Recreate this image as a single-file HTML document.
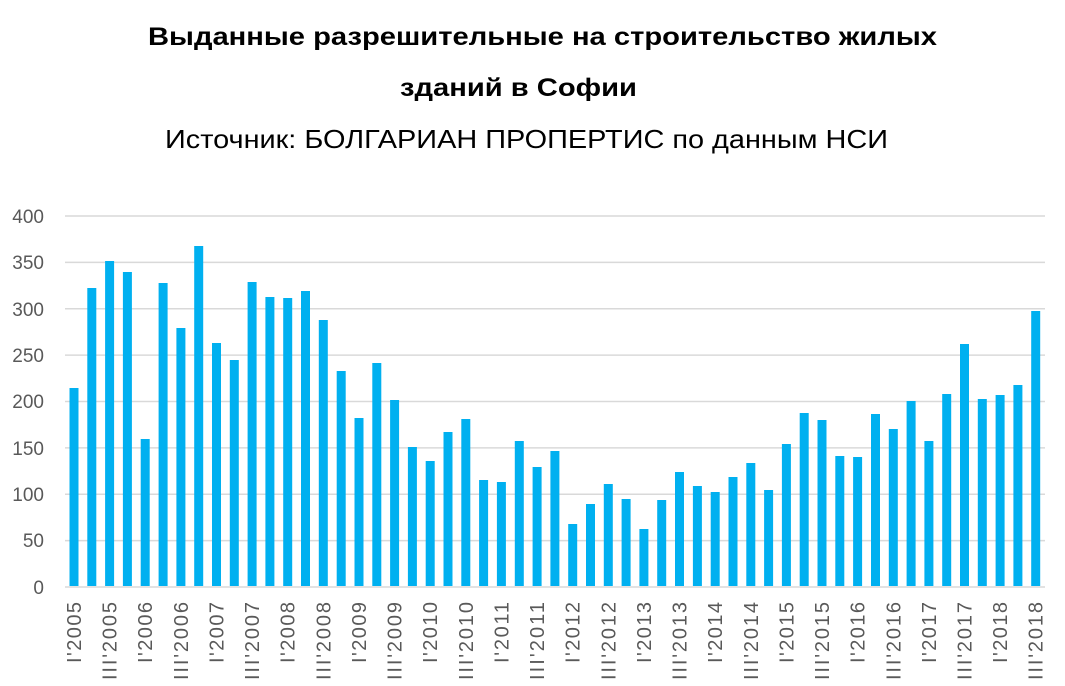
<!DOCTYPE html>
<html><head><meta charset="utf-8"><style>
body{margin:0;background:#fff;}
svg{display:block;}
text{font-family:"Liberation Sans",sans-serif;}
</style></head><body>
<svg width="1065" height="686" xmlns="http://www.w3.org/2000/svg">
<text x="148" y="45" font-size="25" font-weight="bold" fill="#000" textLength="789" lengthAdjust="spacingAndGlyphs">Выданные разрешительные на строительство жилых</text>
<text x="400" y="96" font-size="25" font-weight="bold" fill="#000" textLength="237" lengthAdjust="spacingAndGlyphs">зданий в Софии</text>
<text x="165" y="148" font-size="26" fill="#000" textLength="723" lengthAdjust="spacingAndGlyphs">Источник: БОЛГАРИАН ПРОПЕРТИС по данным НСИ</text>
<g stroke="#d9d9d9" stroke-width="1.5">
<line x1="65" x2="1045" y1="216" y2="216"/><line x1="65" x2="1045" y1="262.4" y2="262.4"/>
<line x1="65" x2="1045" y1="308.8" y2="308.8"/><line x1="65" x2="1045" y1="355.1" y2="355.1"/>
<line x1="65" x2="1045" y1="401.5" y2="401.5"/><line x1="65" x2="1045" y1="447.9" y2="447.9"/>
<line x1="65" x2="1045" y1="494.3" y2="494.3"/><line x1="65" x2="1045" y1="540.6" y2="540.6"/>
<line x1="65" x2="1045" y1="587" y2="587"/>
</g>
<g font-size="19" fill="#595959" text-anchor="end">
<text x="44" y="223">400</text><text x="44" y="269">350</text><text x="44" y="316">300</text>
<text x="44" y="362">250</text><text x="44" y="408">200</text><text x="44" y="455">150</text>
<text x="44" y="501">100</text><text x="44" y="547">50</text><text x="44" y="594">0</text>
</g>
<g fill="#00b0f0">
<rect x="69.5" y="388" width="9" height="198"/>
<rect x="87.3" y="288" width="9" height="298"/>
<rect x="105.1" y="261" width="9" height="325"/>
<rect x="122.9" y="272" width="9" height="314"/>
<rect x="140.7" y="439" width="9" height="147"/>
<rect x="158.6" y="283" width="9" height="303"/>
<rect x="176.4" y="328" width="9" height="258"/>
<rect x="194.2" y="246" width="9" height="340"/>
<rect x="212.0" y="343" width="9" height="243"/>
<rect x="229.8" y="360" width="9" height="226"/>
<rect x="247.6" y="282" width="9" height="304"/>
<rect x="265.4" y="297" width="9" height="289"/>
<rect x="283.2" y="298" width="9" height="288"/>
<rect x="301.0" y="291" width="9" height="295"/>
<rect x="318.8" y="320" width="9" height="266"/>
<rect x="336.7" y="371" width="9" height="215"/>
<rect x="354.5" y="418" width="9" height="168"/>
<rect x="372.3" y="363" width="9" height="223"/>
<rect x="390.1" y="400" width="9" height="186"/>
<rect x="407.9" y="447" width="9" height="139"/>
<rect x="425.7" y="461" width="9" height="125"/>
<rect x="443.5" y="432" width="9" height="154"/>
<rect x="461.3" y="419" width="9" height="167"/>
<rect x="479.1" y="480" width="9" height="106"/>
<rect x="496.9" y="482" width="9" height="104"/>
<rect x="514.8" y="441" width="9" height="145"/>
<rect x="532.6" y="467" width="9" height="119"/>
<rect x="550.4" y="451" width="9" height="135"/>
<rect x="568.2" y="524" width="9" height="62"/>
<rect x="586.0" y="504" width="9" height="82"/>
<rect x="603.8" y="484" width="9" height="102"/>
<rect x="621.6" y="499" width="9" height="87"/>
<rect x="639.4" y="529" width="9" height="57"/>
<rect x="657.2" y="500" width="9" height="86"/>
<rect x="675.0" y="472" width="9" height="114"/>
<rect x="692.9" y="486" width="9" height="100"/>
<rect x="710.7" y="492" width="9" height="94"/>
<rect x="728.5" y="477" width="9" height="109"/>
<rect x="746.3" y="463" width="9" height="123"/>
<rect x="764.1" y="490" width="9" height="96"/>
<rect x="781.9" y="444" width="9" height="142"/>
<rect x="799.7" y="413" width="9" height="173"/>
<rect x="817.5" y="420" width="9" height="166"/>
<rect x="835.3" y="456" width="9" height="130"/>
<rect x="853.1" y="457" width="9" height="129"/>
<rect x="871.0" y="414" width="9" height="172"/>
<rect x="888.8" y="429" width="9" height="157"/>
<rect x="906.6" y="401" width="9" height="185"/>
<rect x="924.4" y="441" width="9" height="145"/>
<rect x="942.2" y="394" width="9" height="192"/>
<rect x="960.0" y="344" width="9" height="242"/>
<rect x="977.8" y="399" width="9" height="187"/>
<rect x="995.6" y="395" width="9" height="191"/>
<rect x="1013.4" y="385" width="9" height="201"/>
<rect x="1031.2" y="311" width="9" height="275"/>
</g>
<g font-size="20" fill="#595959" text-anchor="end" lengthAdjust="spacingAndGlyphs">
<text transform="translate(81,602) rotate(-90)" textLength="61">I'2005</text>
<text transform="translate(116.6,602) rotate(-90)" textLength="78">III'2005</text>
<text transform="translate(152.2,602) rotate(-90)" textLength="61">I'2006</text>
<text transform="translate(187.9,602) rotate(-90)" textLength="78">III'2006</text>
<text transform="translate(223.5,602) rotate(-90)" textLength="61">I'2007</text>
<text transform="translate(259.1,602) rotate(-90)" textLength="78">III'2007</text>
<text transform="translate(294.7,602) rotate(-90)" textLength="61">I'2008</text>
<text transform="translate(330.3,602) rotate(-90)" textLength="78">III'2008</text>
<text transform="translate(366,602) rotate(-90)" textLength="61">I'2009</text>
<text transform="translate(401.6,602) rotate(-90)" textLength="78">III'2009</text>
<text transform="translate(437.2,602) rotate(-90)" textLength="61">I'2010</text>
<text transform="translate(472.8,602) rotate(-90)" textLength="78">III'2010</text>
<text transform="translate(508.4,602) rotate(-90)" textLength="61">I'2011</text>
<text transform="translate(544.1,602) rotate(-90)" textLength="78">III'2011</text>
<text transform="translate(579.7,602) rotate(-90)" textLength="61">I'2012</text>
<text transform="translate(615.3,602) rotate(-90)" textLength="78">III'2012</text>
<text transform="translate(650.9,602) rotate(-90)" textLength="61">I'2013</text>
<text transform="translate(686.5,602) rotate(-90)" textLength="78">III'2013</text>
<text transform="translate(722.2,602) rotate(-90)" textLength="61">I'2014</text>
<text transform="translate(757.8,602) rotate(-90)" textLength="78">III'2014</text>
<text transform="translate(793.4,602) rotate(-90)" textLength="61">I'2015</text>
<text transform="translate(829,602) rotate(-90)" textLength="78">III'2015</text>
<text transform="translate(864.6,602) rotate(-90)" textLength="61">I'2016</text>
<text transform="translate(900.3,602) rotate(-90)" textLength="78">III'2016</text>
<text transform="translate(935.9,602) rotate(-90)" textLength="61">I'2017</text>
<text transform="translate(971.5,602) rotate(-90)" textLength="78">III'2017</text>
<text transform="translate(1007.1,602) rotate(-90)" textLength="61">I'2018</text>
<text transform="translate(1042.7,602) rotate(-90)" textLength="78">III'2018</text>
</g>
</svg>
</body></html>
